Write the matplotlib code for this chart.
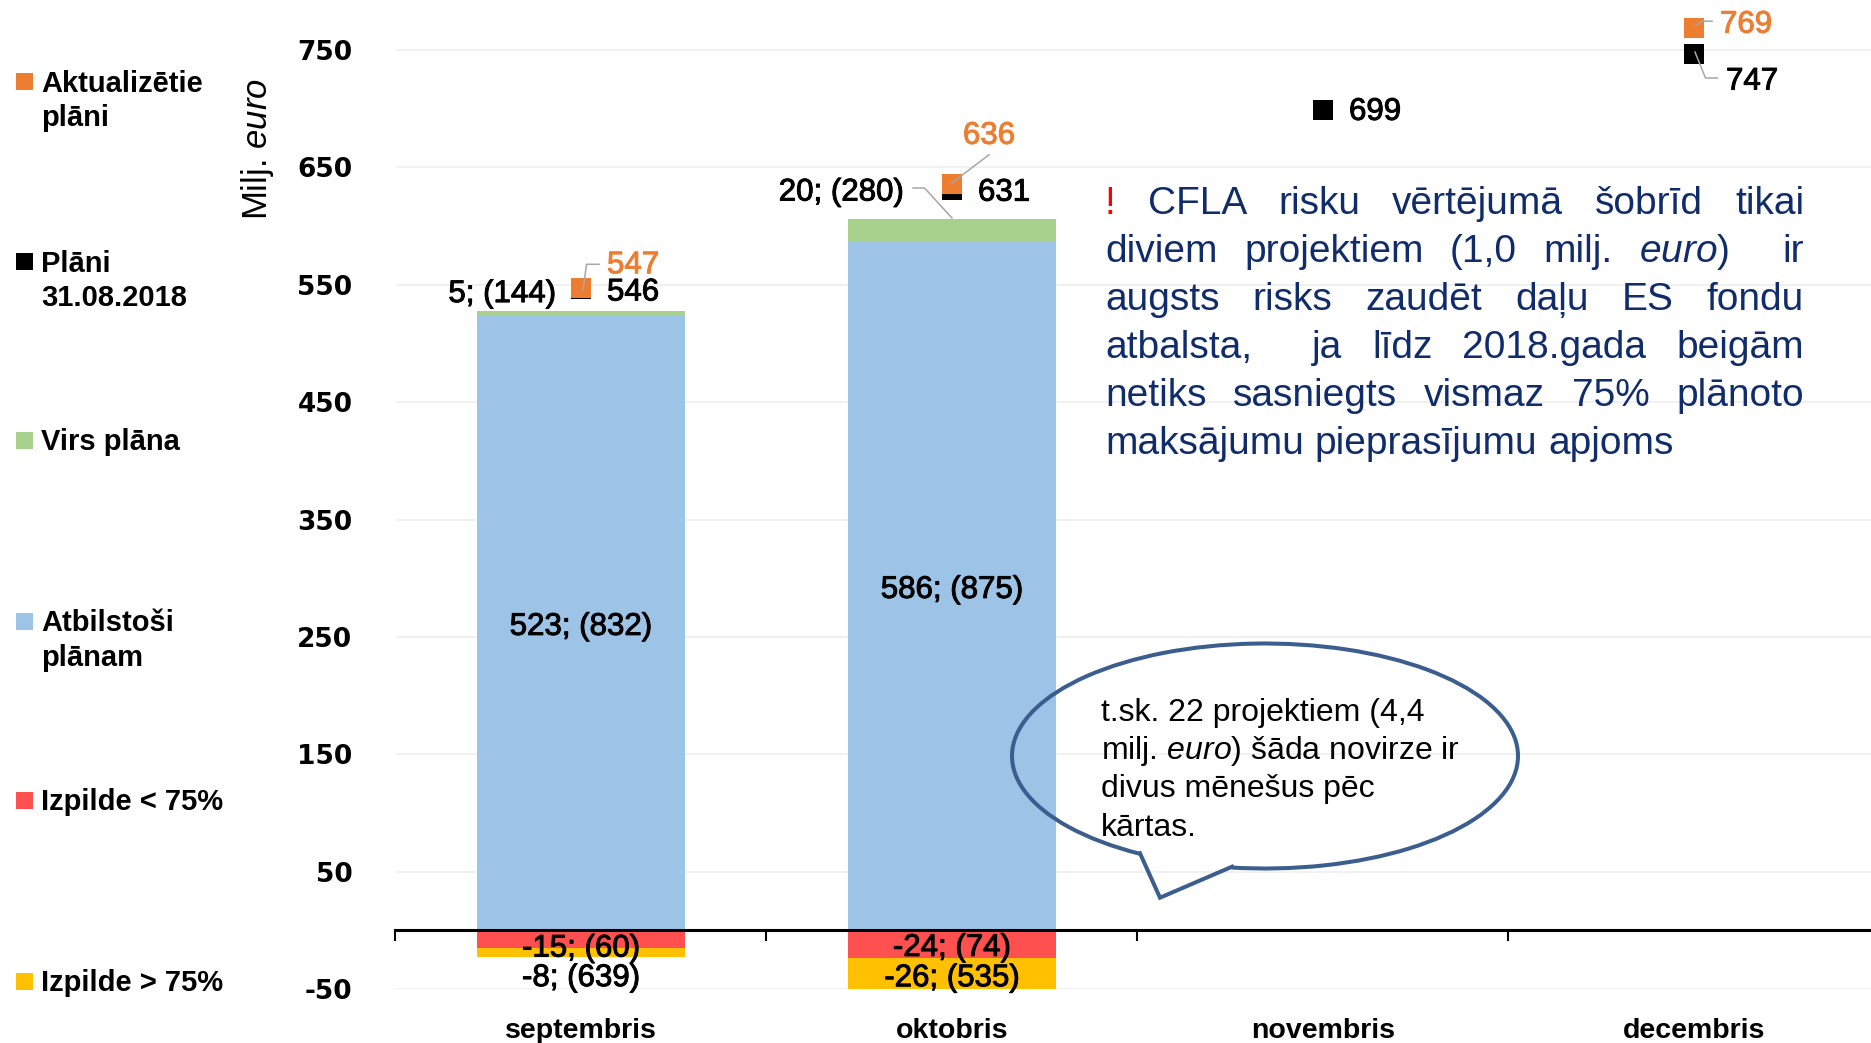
import numpy as np
import matplotlib
matplotlib.use('Agg')
import matplotlib.pyplot as plt
import matplotlib.patheffects as pe
from matplotlib.patches import Arc, Rectangle

plt.rcParams['mathtext.fontset'] = 'custom'
plt.rcParams['mathtext.rm'] = 'Liberation Sans'
plt.rcParams['mathtext.it'] = 'Liberation Sans:italic'

# 1. Data (milj. euro; number of projects in brackets)
months = ['septembris', 'oktobris', 'novembris', 'decembris']
atbilstosi = [523, 586, np.nan, np.nan]
atbilstosi_n = [832, 875]
virs_plana = [5, 20, np.nan, np.nan]
virs_plana_n = [144, 280]
izpilde_lt75 = [-15, -24, np.nan, np.nan]
izpilde_lt75_n = [60, 74]
izpilde_gt75 = [-8, -26, np.nan, np.nan]
izpilde_gt75_n = [639, 535]
plani = [546, 631, 699, 747]
aktualizetie = [547, 636, np.nan, 769]
yticks = list(range(-50, 751, 100))

ORANGE = '#ED7D31'
GREEN = '#A9D18E'
BLUE = '#9DC3E6'
RED = '#FF5050'
YELLOW = '#FFC000'
NAVY = '#102C6B'
CALLOUT = '#3B5E8F'
LEADER = '#A6A6A6'

legend_items = [(['Aktualizētie', 'plāni'], ORANGE),
                (['Plāni', '31.08.2018'], 'black'),
                (['Virs plāna'], GREEN),
                (['Atbilstoši', 'plānam'], BLUE),
                (['Izpilde < 75%'], RED),
                (['Izpilde > 75%'], YELLOW)]

# 2. Figure and main axes
W, H = 1871, 1043
fig = plt.figure(figsize=(W / 100, H / 100), dpi=100)
ax = fig.add_axes([395.5 / W, (H - 989) / H, 1484 / W, 989 / H])

x = np.arange(len(months))
bw = 0.56
ax.bar(x, atbilstosi, bw, color=BLUE, zorder=2)
ax.bar(x, virs_plana, bw, bottom=atbilstosi, color=GREEN, zorder=2)
ax.bar(x, izpilde_lt75, bw, color=RED, zorder=2)
ax.bar(x, izpilde_gt75, bw, bottom=izpilde_lt75, color=YELLOW, zorder=2)

ax.plot(x, plani, 's', color='black', ms=14.4, mew=0, zorder=4, clip_on=False)
ax.plot(x, aktualizetie, 's', color=ORANGE, ms=14.4, mew=0, zorder=5, clip_on=False)

ax.set_xlim(-0.5, 3.5)
ax.set_ylim(-50, 792.6)
ax.set_yticks(yticks, labels=[str(v) for v in yticks], fontfamily='DejaVu Sans',
              fontweight='bold', fontsize=19)
ax.set_xticks(x, labels=months, fontfamily='Liberation Sans', fontweight='bold', fontsize=20.5)
ax.tick_params(axis='y', length=0, pad=31)
ax.tick_params(axis='x', length=0, pad=21)
ax.grid(axis='y', color='#EFEFEF', lw=1.2)
ax.set_axisbelow(True)
for s in ax.spines.values():
    s.set_visible(False)
ax.axhline(0, color='black', lw=2.2, zorder=3)

# 3. Overlay in pixel units for labels, legend and notes
ov = fig.add_axes([0, 0, 1, 1])
ov.set_xlim(0, W)
ov.set_ylim(H, 0)
ov.axis('off')


def to_px(xv, yv):
    px, py = ax.transData.transform((xv, yv))
    return px, H - py


def label(px, py, s, color='black', **kw):
    # data labels: Arial-like, slightly heavier than regular
    return ov.text(px, py, s, color=color, fontfamily='Liberation Sans', fontsize=22.5,
                   path_effects=[pe.withStroke(linewidth=0.7, foreground=color)], **kw)


# category ticks under the zero line
for b in x - 0.5:
    px, py = to_px(b, 0)
    ov.plot([px, px], [py, py + 10], color='black', lw=1.5)

sh = 2.5  # small downward shift for labels with brackets

# bar segment labels
red_dy = [7, 1]
yel_dy = [23, 2]
for i in range(2):
    px, py = to_px(x[i], atbilstosi[i] / 2)
    label(px, py + 3.5, f'{atbilstosi[i]}; ({atbilstosi_n[i]})', ha='center', va='center')
    px, py = to_px(x[i], izpilde_lt75[i] / 2)
    label(px, py + red_dy[i] + sh, f'{izpilde_lt75[i]}; ({izpilde_lt75_n[i]})',
          ha='center', va='center', zorder=6)
    px, py = to_px(x[i], izpilde_lt75[i] + izpilde_gt75[i] / 2)
    label(px, py + yel_dy[i] + sh, f'{izpilde_gt75[i]}; ({izpilde_gt75_n[i]})',
          ha='center', va='center')

# "virs plāna" labels above the bars
green_off = [(-25, -19), (-48, -29)]
for i in range(2):
    px, py = to_px(x[i], atbilstosi[i] + virs_plana[i])
    dx, dy = green_off[i]
    label(px + dx, py + dy + sh, f'{virs_plana[i]}; ({virs_plana_n[i]})', ha='right', va='center')
px, py = to_px(x[1], atbilstosi[1] + virs_plana[1])
ov.plot([px - 39, px - 27.5, px], [py - 31, py - 31, py - 1], color=LEADER, lw=1.1)

# marker labels: (series, index, dx, dy, ha, leader points relative to marker)
marker_labels = [
    (plani, 0, 26, 1, 'left', None),
    (aktualizetie, 0, 26, -25, 'left', [(2, 2), (5.5, -24), (18, -24)]),
    (plani, 1, 26, 1, 'left', None),
    (aktualizetie, 1, 37, -50, 'center', [(0, -1), (37, -29)]),
    (plani, 2, 26, 0, 'left', None),
    (aktualizetie, 3, 26, -5, 'left', [(2, -2.5), (8, -6.5), (18, -6.5)]),
    (plani, 3, 32, 26, 'left', [(1, -1.5), (11.5, 24.5), (23.5, 24.5)]),
]
for series, i, dx, dy, ha, lead in marker_labels:
    px, py = to_px(x[i], series[i])
    col = ORANGE if series is aktualizetie else 'black'
    label(px + dx, py + dy + 2, f'{series[i]:.0f}', color=col, ha=ha, va='center')
    if lead:
        ov.plot([px + p[0] for p in lead], [py + p[1] for p in lead], color=LEADER, lw=1.1, zorder=6)

# 4. Legend on the left
for k, (lines, col) in enumerate(legend_items):
    yc = [81.5, 261.5, 440.5, 621, 800.5, 981][k]
    ov.add_patch(Rectangle((16, yc - 8.5), 17, 17, color=col, lw=0))
    for j, line in enumerate(lines):
        ov.text(41, yc + 10 + j * 35, line, ha='left', va='baseline', fontfamily='Liberation Sans',
                fontweight='bold', fontsize=21)

ov.text(258, 149, 'Milj. $\\mathit{euro}$', rotation=90, ha='center', va='center',
        fontfamily='Liberation Sans', fontsize=25)

# 5. Justified note on the right
renderer = fig.canvas.get_renderer()
box_lines = [
    ['!', 'CFLA', 'risku', 'vērtējumā', 'šobrīd', 'tikai'],
    ['diviem', 'projektiem', '(1,0', 'milj.', '$\\mathit{euro}$)', '', 'ir'],
    ['augsts', 'risks', 'zaudēt', 'daļu', 'ES', 'fondu'],
    ['atbalsta,', '', 'ja', 'līdz', '2018.gada', 'beigām'],
    ['netiks', 'sasniegts', 'vismaz', '75%', 'plānoto'],
    ['maksājumu', 'pieprasījumu', 'apjoms'],
]
box_fs = 28
x0, x1 = 1105, 1804
for n, words in enumerate(box_lines):
    yb = 214 + n * 48
    objs = []
    for w in words:
        col = 'red' if w == '!' else NAVY
        objs.append(ov.text(0, yb, w, ha='left', va='baseline', color=col,
                            fontfamily='Liberation Sans', fontsize=box_fs))
    widths = [o.get_window_extent(renderer).width if o.get_text() else 0 for o in objs]
    if n < len(box_lines) - 1:
        gap = (x1 - x0 - sum(widths)) / (len(objs) - 1)
    else:
        gap = 0.278 * box_fs * 100 / 72
    xp = x0
    for o, w in zip(objs, widths):
        o.set_x(xp)
        xp += w + gap

# 6. Speech bubble
ov.add_patch(Arc((1265, 756), 506, 225, theta1=142.1, theta2=106.7, color=CALLOUT, lw=2.9))
ov.plot([1140, 1160, 1232], [853.3, 897.7, 866.7], color=CALLOUT, lw=2.9, solid_joinstyle='miter')
callout_lines = ['t.sk. 22 projektiem (4,4',
                 'milj. $\\mathit{euro}$) šāda novirze ir',
                 'divus mēnešus pēc',
                 'kārtas.']
for n, line in enumerate(callout_lines):
    ov.text(1101, 721.5 + n * 38, line, ha='left', va='baseline', fontfamily='Liberation Sans',
            fontsize=23)

fig.savefig('out.png', dpi=100)
